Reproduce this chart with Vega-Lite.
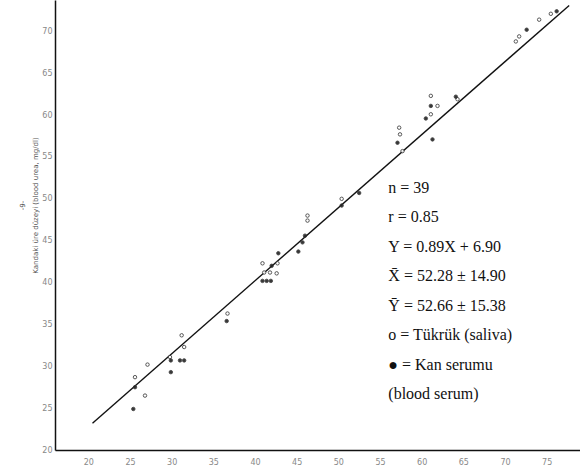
{
  "$schema": "https://vega.github.io/schema/vega-lite/v6.json",
  "autosize": "none",
  "width": 525,
  "height": 450,
  "padding": {"left": 55, "top": 0, "right": 0, "bottom": 22},
  "background": "white",
  "config": {"view": {"stroke": null}},
  "datasets": {
    "points": [
      {"x": 25.4, "y": 24.9, "type": "serum"},
      {"x": 26.8, "y": 26.5, "type": "saliva"},
      {"x": 25.6, "y": 27.5, "type": "serum"},
      {"x": 25.6, "y": 28.7, "type": "saliva"},
      {"x": 27.1, "y": 30.2, "type": "saliva"},
      {"x": 29.9, "y": 29.3, "type": "serum"},
      {"x": 29.8, "y": 31.1, "type": "saliva"},
      {"x": 29.9, "y": 30.7, "type": "serum"},
      {"x": 31.0, "y": 30.7, "type": "serum"},
      {"x": 31.5, "y": 30.7, "type": "serum"},
      {"x": 31.5, "y": 32.3, "type": "saliva"},
      {"x": 31.2, "y": 33.7, "type": "saliva"},
      {"x": 36.6, "y": 35.4, "type": "serum"},
      {"x": 36.7, "y": 36.3, "type": "saliva"},
      {"x": 40.9, "y": 40.2, "type": "serum"},
      {"x": 41.4, "y": 40.2, "type": "serum"},
      {"x": 41.9, "y": 40.2, "type": "serum"},
      {"x": 41.1, "y": 41.2, "type": "saliva"},
      {"x": 41.8, "y": 41.2, "type": "saliva"},
      {"x": 42.6, "y": 41.1, "type": "saliva"},
      {"x": 40.9, "y": 42.3, "type": "saliva"},
      {"x": 42.0, "y": 42.0, "type": "serum"},
      {"x": 42.7, "y": 42.3, "type": "saliva"},
      {"x": 42.8, "y": 43.5, "type": "serum"},
      {"x": 45.2, "y": 43.7, "type": "serum"},
      {"x": 45.7, "y": 44.8, "type": "serum"},
      {"x": 46.0, "y": 45.6, "type": "serum"},
      {"x": 46.3, "y": 47.4, "type": "saliva"},
      {"x": 46.3, "y": 48.0, "type": "saliva"},
      {"x": 50.4, "y": 49.2, "type": "serum"},
      {"x": 50.4, "y": 50.0, "type": "saliva"},
      {"x": 52.5, "y": 50.7, "type": "serum"},
      {"x": 57.1, "y": 56.7, "type": "serum"},
      {"x": 57.7, "y": 55.7, "type": "saliva"},
      {"x": 57.4, "y": 57.7, "type": "saliva"},
      {"x": 57.3, "y": 58.5, "type": "saliva"},
      {"x": 60.5, "y": 59.6, "type": "serum"},
      {"x": 61.1, "y": 60.1, "type": "saliva"},
      {"x": 61.1, "y": 61.1, "type": "serum"},
      {"x": 61.9, "y": 61.1, "type": "saliva"},
      {"x": 61.1, "y": 62.3, "type": "saliva"},
      {"x": 61.3, "y": 57.1, "type": "serum"},
      {"x": 64.3, "y": 61.9, "type": "saliva"},
      {"x": 64.1, "y": 62.2, "type": "serum"},
      {"x": 71.3, "y": 68.8, "type": "saliva"},
      {"x": 71.7, "y": 69.4, "type": "saliva"},
      {"x": 72.6, "y": 70.2, "type": "serum"},
      {"x": 74.1, "y": 71.4, "type": "saliva"},
      {"x": 75.5, "y": 72.1, "type": "saliva"},
      {"x": 76.2, "y": 72.4, "type": "serum"}
    ],
    "fit": [
      {"x": 20.5, "y": 23.2},
      {"x": 77.7, "y": 73.1}
    ],
    "notes": [
      {"x": 56, "y": 52.3, "text": ["n = 39", "r = 0.85", "Y = 0.89X + 6.90", "X̄ = 52.28 ± 14.90", "Ȳ = 52.66 ± 15.38", "o = Tükrük (saliva)", " ● = Kan serumu", "(blood serum)"]}
    ]
  },
  "layer": [
    {
      "data": {"name": "fit"},
      "mark": {"type": "line", "color": "#111", "strokeWidth": 1.4},
      "encoding": {
        "x": {
          "field": "x", "type": "quantitative",
          "scale": {"domain": [16, 79], "nice": false, "zero": false},
          "axis": {
            "title": null,
            "values": [20, 25, 30, 35, 40, 45, 50, 55, 60, 65, 70, 75],
            "ticks": false, "grid": false,
            "domainColor": "#111", "domainWidth": 1.5,
            "labelFont": "DejaVu Sans", "labelFontSize": 8, "labelColor": "#888",
            "labelPadding": 8
          }
        },
        "y": {
          "field": "y", "type": "quantitative",
          "scale": {"domain": [20, 73.75], "nice": false, "zero": false},
          "axis": {
            "title": ["-9-", "Kandaki üre düzeyi (blood urea, mg/dl)"],
            "titleFont": "DejaVu Sans", "titleFontSize": 7, "titleColor": "#555",
            "titleFontWeight": "normal", "titleLineHeight": 13,
            "titleX": -30, "titleY": 205,
            "values": [20, 25, 30, 35, 40, 45, 50, 55, 60, 65, 70],
            "ticks": false, "grid": false,
            "domainColor": "#111", "domainWidth": 1.5,
            "labelFont": "DejaVu Sans", "labelFontSize": 8, "labelColor": "#888",
            "labelPadding": 3
          }
        }
      }
    },
    {
      "data": {"name": "points"},
      "mark": {"type": "point", "size": 12, "strokeWidth": 0.9, "stroke": "#333", "shape": "circle", "opacity": 0.9},
      "encoding": {
        "x": {"field": "x", "type": "quantitative"},
        "y": {"field": "y", "type": "quantitative"},
        "fill": {
          "field": "type", "type": "nominal",
          "scale": {"domain": ["saliva", "serum"], "range": ["white", "#222"]},
          "legend": null
        }
      }
    },
    {
      "data": {"name": "notes"},
      "mark": {"type": "text", "align": "left", "baseline": "top", "font": "Liberation Serif", "fontSize": 16, "lineHeight": 29.5, "color": "#111"},
      "encoding": {
        "x": {"field": "x", "type": "quantitative"},
        "y": {"field": "y", "type": "quantitative"},
        "text": {"field": "text"}
      }
    }
  ]
}
